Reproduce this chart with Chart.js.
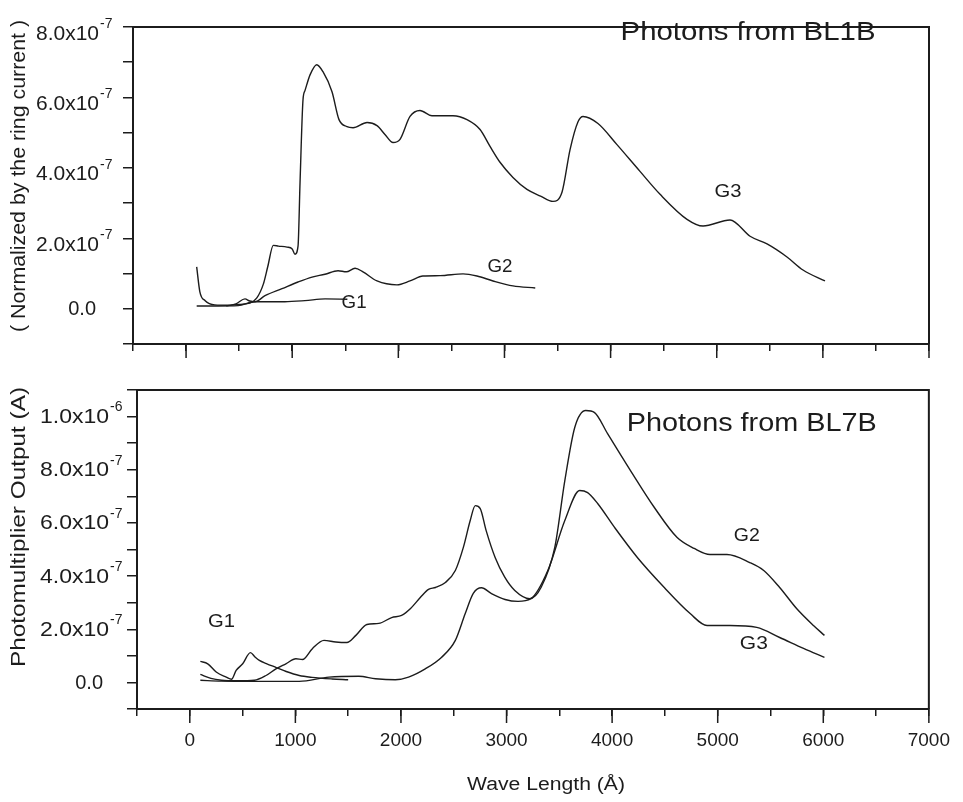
<!DOCTYPE html>
<html>
<head>
<meta charset="utf-8">
<title>Photons from BL1B / BL7B</title>
<script src="https://cdn.jsdelivr.net/npm/chart.js@4.4.0/dist/chart.umd.min.js"></script>
<style>
    body { margin: 0; background: #fff; }
    #wrap { position: relative; width: 963px; height: 802px; }
    canvas { position: absolute; left: 0; }
</style>
</head>
<body>
<div id="wrap">
    <canvas id="bl1bCanvas" width="963" height="372" style="top:0"></canvas>
    <canvas id="bl7bCanvas" width="963" height="430" style="top:372px"></canvas>
</div>
<script>
// values are in units of 1e-7 (A), wavelength in angstrom
var UNIT = 1e-7;

/*********** BL1B (top) ***********/
var bl1bG1Wave   = [100, 300, 490, 650, 930, 1120, 1310, 1520];
var bl1bG1Signal = [0.08, 0.08, 0.09, 0.20, 0.20, 0.23, 0.28, 0.27];

var bl1bG2Wave   = [380, 470, 555, 600, 650, 744, 904, 1055, 1187, 1309, 1432, 1510, 1592, 1667, 1799, 1987, 2110, 2232, 2393, 2610, 2741, 2892, 3080, 3290];
var bl1bG2Signal = [0.08, 0.14, 0.28, 0.22, 0.20, 0.37, 0.57, 0.76, 0.90, 0.98, 1.08, 1.05, 1.15, 1.05, 0.79, 0.68, 0.79, 0.93, 0.94, 0.99, 0.93, 0.79, 0.65, 0.59];

var bl1bG3Wave   = [100, 130, 180, 270, 400, 480, 600, 665, 728, 770, 822, 870, 951, 1000, 1026, 1055, 1074, 1102, 1121, 1168, 1231, 1290, 1375, 1441, 1516, 1573, 1705, 1799, 1874, 1950, 2016, 2110, 2204, 2317, 2515, 2647, 2770, 2864, 2958, 3080, 3212, 3340, 3457, 3542, 3618, 3693, 3740, 3881, 4060, 4277, 4466, 4720, 4871, 5125, 5314, 5474, 5662, 5813, 6020];
var bl1bG3Signal = [1.19, 0.48, 0.23, 0.11, 0.10, 0.12, 0.16, 0.30, 0.70, 1.20, 1.80, 1.78, 1.75, 1.70, 1.55, 1.78, 3.60, 5.94, 6.20, 6.64, 6.93, 6.73, 6.16, 5.37, 5.17, 5.14, 5.29, 5.20, 4.95, 4.72, 4.81, 5.46, 5.63, 5.48, 5.48, 5.37, 5.09, 4.61, 4.16, 3.73, 3.39, 3.20, 3.05, 3.31, 4.52, 5.31, 5.46, 5.26, 4.66, 3.90, 3.25, 2.54, 2.35, 2.52, 2.06, 1.84, 1.47, 1.10, 0.79];

/*********** BL7B (bottom) ***********/
var bl7bG1Wave   = [100, 170, 250, 345, 395, 439, 501, 574, 620, 659, 725, 819, 913, 1036, 1158, 1347, 1500];
var bl7bG1Signal = [0.79, 0.70, 0.39, 0.20, 0.12, 0.45, 0.70, 1.12, 0.95, 0.83, 0.71, 0.56, 0.41, 0.26, 0.19, 0.13, 0.10];

var bl7bG2Wave   = [100, 200, 300, 450, 612, 722, 816, 910, 1005, 1067, 1161, 1271, 1382, 1488, 1573, 1677, 1790, 1912, 2006, 2091, 2185, 2261, 2327, 2421, 2515, 2591, 2656, 2704, 2751, 2807, 2892, 2983, 3078, 3220, 3328, 3457, 3552, 3646, 3750, 3834, 3957, 4174, 4400, 4616, 4777, 4927, 5088, 5304, 5436, 5587, 5747, 5907, 6011];
var bl7bG2Signal = [0.30, 0.15, 0.08, 0.06, 0.08, 0.26, 0.51, 0.70, 0.89, 0.86, 1.27, 1.58, 1.52, 1.50, 1.77, 2.18, 2.22, 2.44, 2.52, 2.78, 3.20, 3.50, 3.57, 3.76, 4.21, 5.08, 6.09, 6.65, 6.54, 5.71, 4.70, 3.96, 3.46, 3.15, 3.58, 5.08, 7.59, 9.59, 10.23, 10.15, 9.36, 7.97, 6.58, 5.45, 5.04, 4.81, 4.81, 4.51, 4.21, 3.57, 2.78, 2.14, 1.77];

var bl7bG3Wave   = [100, 300, 600, 1036, 1319, 1601, 1759, 1947, 2072, 2230, 2383, 2515, 2609, 2685, 2763, 2854, 2986, 3109, 3231, 3391, 3552, 3693, 3768, 3863, 4023, 4239, 4494, 4739, 4899, 5116, 5370, 5587, 5813, 6011];
var bl7bG3Signal = [0.08, 0.05, 0.04, 0.04, 0.20, 0.23, 0.14, 0.10, 0.20, 0.51, 0.94, 1.58, 2.59, 3.35, 3.56, 3.35, 3.12, 3.05, 3.15, 4.21, 6.09, 7.22, 7.14, 6.73, 5.83, 4.70, 3.57, 2.59, 2.14, 2.14, 2.07, 1.69, 1.28, 0.94];

// tick labels
var waveTickLabels = [0, 1000, 2000, 3000, 4000, 5000, 6000, 7000];
var bl1bYTickLabels = [0, 2, 4, 6, 8];
var bl7bYTickLabels = [0, 2, 4, 6, 8, 10];

// text on the plots, placed in data coordinates (fit = drawn width in px)
var bl1bNotes = [
    { text: 'G1', wave: 1583, value: 0.17, size: 19, fit: 25 },
    { text: 'G2', wave: 2958, value: 1.19, size: 19, fit: 25 },
    { text: 'G3', wave: 5106, value: 3.31, size: 19, fit: 27 },
    { text: 'Photons from BL1B', wave: 5295, value: 7.83, size: 26, fit: 255 }
];
var bl7bNotes = [
    { text: 'G1', wave: 301, value: 2.29, size: 19, fit: 27 },
    { text: 'G2', wave: 5276, value: 5.53, size: 19, fit: 26 },
    { text: 'G3', wave: 5342, value: 1.47, size: 19, fit: 28 },
    { text: 'Photons from BL7B', wave: 5323, value: 9.74, size: 26, fit: 250 }
];

var INK = '#1c1c1c';
var FONT = '"Liberation Sans", Arial, Helvetica, sans-serif';

function toPoints(wave, signal) {
    var pts = [];
    for (var i = 0; i < wave.length; i++) {
        pts.push({ x: wave[i], y: signal[i] * UNIT });
    }
    return pts;
}

function lineSet(label, wave, signal) {
    return {
        label: label,
        data: toPoints(wave, signal),
        borderColor: INK,
        borderWidth: 1.4,
        pointRadius: 0,
        fill: false,
        cubicInterpolationMode: 'monotone'
    };
}

// draw centred text squeezed/stretched to a given width
function fitText(ctx, text, x, y, width) {
    var w = ctx.measureText(text).width;
    var sx = width ? width / w : 1;
    ctx.save();
    ctx.translate(x, y);
    ctx.scale(sx, 1);
    ctx.textAlign = 'center';
    ctx.fillText(text, 0, 0);
    ctx.restore();
}

// frame, long major ticks, y labels with exponents, titles and notes
var decorPlugin = {
    id: 'decor',
    afterDraw: function (chart, args, opts) {
        var ctx = chart.ctx, area = chart.chartArea;
        var xs = chart.scales.x, ys = chart.scales.y;
        ctx.save();
        ctx.strokeStyle = INK;
        ctx.fillStyle = INK;

        // top and right border
        ctx.lineWidth = 2;
        ctx.beginPath();
        ctx.moveTo(area.left - 1, area.top);
        ctx.lineTo(area.right, area.top);
        ctx.lineTo(area.right, area.bottom);
        ctx.stroke();

        // longer ticks at every 1000
        ctx.lineWidth = 1.5;
        waveTickLabels.forEach(function (w) {
            var px = xs.getPixelForValue(w);
            ctx.beginPath();
            ctx.moveTo(px, area.bottom);
            ctx.lineTo(px, area.bottom + 14);
            ctx.stroke();
        });

        // y tick labels
        ctx.textBaseline = 'middle';
        opts.yLabels.forEach(function (v) {
            var py = ys.getPixelForValue(v * UNIT);
            ctx.font = opts.labelSize + 'px ' + FONT;
            if (v === 0) {
                ctx.textAlign = 'right';
                ctx.fillText('0.0', opts.labelRight - opts.zeroShift, py + 1);
                return;
            }
            var exp = v >= 10 ? -6 : -7;
            var mant = v >= 10 ? v / 10 : v;
            var base = mant.toFixed(1) + 'x10';
            var bw = ctx.measureText(base).width * opts.labelStretch;
            ctx.save();
            ctx.translate(opts.labelRight - bw, py + opts.labelDy);
            ctx.scale(opts.labelStretch, 1);
            ctx.textAlign = 'left';
            ctx.fillText(base, 0, 0);
            ctx.restore();
            ctx.font = '14px ' + FONT;
            ctx.textAlign = 'left';
            ctx.fillText(String(exp), opts.labelRight + 1, py + opts.labelDy - 10);
        });

        // y title
        ctx.save();
        ctx.translate(opts.yTitleX, opts.yTitleY);
        ctx.rotate(-Math.PI / 2);
        ctx.font = '20px ' + FONT;
        fitText(ctx, opts.yTitle, 0, 0, opts.yTitleLen);
        ctx.restore();

        // x title
        if (opts.xTitle) {
            ctx.font = '18px ' + FONT;
            fitText(ctx, opts.xTitle, opts.xTitleX, opts.xTitleY, opts.xTitleLen);
        }

        // notes
        opts.notes.forEach(function (n) {
            ctx.font = n.size + 'px ' + FONT;
            fitText(ctx, n.text, xs.getPixelForValue(n.wave), ys.getPixelForValue(n.value * UNIT), n.fit);
        });
        ctx.restore();
    }
};

function makePanel(canvasId, sets, cfg) {
    var ctx = document.getElementById(canvasId);
    return new Chart(ctx, {
        type: 'line',
        data: { datasets: sets },
        plugins: [decorPlugin],
        options: {
            responsive: false,
            animation: false,
            layout: { padding: { top: cfg.padTop, right: cfg.padRight, left: 0, bottom: 0 } },
            plugins: {
                legend: { display: false },
                tooltip: { enabled: false },
                decor: cfg.decor
            },
            scales: {
                x: {
                    type: 'linear',
                    min: -500,
                    max: 7000,
                    afterFit: function (s) { s.height = cfg.xHeight; },
                    ticks: {
                        display: cfg.showXLabels,
                        stepSize: 500,
                        autoSkip: false,
                        maxRotation: 0,
                        padding: 13,
                        color: INK,
                        font: { family: FONT, size: 19 },
                        callback: function (v) {
                            return waveTickLabels.indexOf(v) >= 0 ? String(v) : '';
                        }
                    },
                    grid: { drawOnChartArea: false, drawTicks: true, tickLength: 7, color: INK, lineWidth: 1.5 },
                    border: { display: true, color: INK, width: 2 }
                },
                y: {
                    type: 'linear',
                    min: cfg.yMin * UNIT,
                    max: cfg.yMax * UNIT,
                    afterFit: function (s) { s.width = cfg.yWidth; },
                    ticks: { display: false, stepSize: UNIT },
                    grid: { drawOnChartArea: false, drawTicks: true, tickLength: 10, color: INK, lineWidth: 1.5 },
                    border: { display: true, color: INK, width: 2 }
                }
            }
        }
    });
}

var bl1bChart = makePanel('bl1bCanvas', [
    lineSet('G1', bl1bG1Wave, bl1bG1Signal),
    lineSet('G2', bl1bG2Wave, bl1bG2Signal),
    lineSet('G3', bl1bG3Wave, bl1bG3Signal)
], {
    padTop: 27, padRight: 34, xHeight: 28, yWidth: 133,
    yMin: -1, yMax: 8, showXLabels: false,
    decor: {
        yLabels: bl1bYTickLabels, labelRight: 99, labelDy: 7, zeroShift: 3,
        labelSize: 20, labelStretch: 1.05,
        yTitle: '( Normalized by the ring current )', yTitleX: 19, yTitleY: 176, yTitleLen: 312,
        notes: bl1bNotes
    }
});

var bl7bChart = makePanel('bl7bCanvas', [
    lineSet('G1', bl7bG1Wave, bl7bG1Signal),
    lineSet('G2', bl7bG2Wave, bl7bG2Signal),
    lineSet('G3', bl7bG3Wave, bl7bG3Signal)
], {
    padTop: 18, padRight: 30, xHeight: 93, yWidth: 137,
    yMin: -1, yMax: 11, showXLabels: true,
    decor: {
        yLabels: bl7bYTickLabels, labelRight: 109, labelDy: 1, zeroShift: 6,
        labelSize: 20, labelStretch: 1.15,
        yTitle: 'Photomultiplier Output (A)', yTitleX: 19, yTitleY: 155, yTitleLen: 280,
        xTitle: 'Wave Length (\u00C5)', xTitleX: 546, xTitleY: 413, xTitleLen: 158,
        notes: bl7bNotes
    }
});
</script>
</body>
</html>
